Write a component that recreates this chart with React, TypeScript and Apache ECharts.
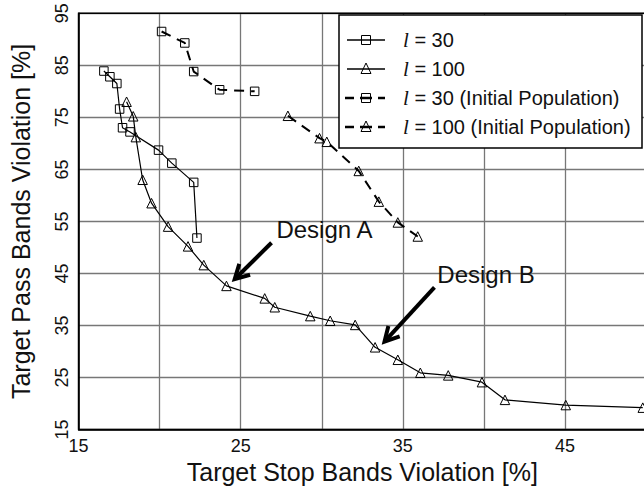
import React, { useEffect, useRef } from "react";
import * as echarts from "echarts";

// x: Target Stop Bands Violation [%], y: Target Pass Bands Violation [%]
const l30X = [16.56, 16.93, 17.36, 17.53, 17.71, 18.17, 19.93, 20.75, 22.1, 22.3];
const l30Y = [83.9, 82.8, 81.5, 76.6, 73.0, 72.2, 68.7, 66.2, 62.5, 51.8];

const l100X = [17.96, 18.37, 18.53, 18.95, 19.5, 20.52, 21.75, 22.72, 24.12, 26.48, 27.1, 29.29, 30.52, 32.06, 33.29, 34.69, 36.08, 37.8, 39.88, 41.3, 45.05, 49.8];
const l100Y = [78.0, 75.2, 71.2, 63.0, 58.5, 54.0, 50.2, 46.6, 42.6, 40.2, 38.5, 36.8, 35.9, 35.1, 30.8, 28.4, 25.9, 25.4, 24.1, 20.7, 19.7, 19.2];

const init30X = [20.12, 21.55, 22.1, 23.7, 25.86];
const init30Y = [91.5, 89.3, 83.8, 80.3, 80.0];

const init100X = [27.91, 29.86, 30.31, 32.28, 33.52, 34.69, 35.92];
const init100Y = [75.3, 71.0, 70.3, 64.7, 58.8, 54.8, 52.1];

const xLabelTicks = [15, 25, 35, 45];

const xTitle = "Target Stop Bands Violation [%]";
const yTitle = "Target Pass Bands Violation [%]";

// annotations (data coordinates)
const designLabels = ["Design A", "Design B"];
const designTextPos = [[27.2, 53.4], [37.13, 44.7]];
const designTail = [[26.9, 50.9], [36.95, 42.3]];
const designTip = [[24.63, 43.9], [33.87, 31.9]];

const legendLabels = ["30", "100", "30 (Initial Population)", "100 (Initial Population)"];

const zip = (xs: number[], ys: number[]) => xs.map((x, i) => [x, ys[i]]);

const FONT = "'Liberation Sans', Arial, sans-serif";

export default function App() {
  const ref = useRef<HTMLDivElement>(null);
  useEffect(() => {
    const chart = echarts.init(ref.current!, null, { renderer: "svg" });
    const hollow = { color: "rgba(0,0,0,0)", borderColor: "#000", borderWidth: 1 };
    const mk = (name: string, data: number[][], symbol: string, size: number, dashed: boolean) => ({
      name,
      type: "line",
      data,
      symbol,
      symbolSize: size,
      showSymbol: true,
      lineStyle: dashed
        ? { color: "#000", width: 2, type: [10, 7] }
        : { color: "#000", width: 1.2 },
      itemStyle: hollow,
      z: 3,
    });
    chart.setOption({
      animation: false,
      textStyle: { fontFamily: FONT },
      grid: { left: 78.6, top: 13.3, bottom: 61.5, right: 6, show: false },
      xAxis: {
        type: "value",
        min: 15,
        max: 50,
        interval: 5,
        name: xTitle,
        nameLocation: "middle",
        nameGap: 23,
        nameTextStyle: { fontSize: 25, color: "#111", fontFamily: FONT },
        axisLine: { show: true, lineStyle: { color: "#000", width: 1.5 } },
        axisTick: { show: false },
        axisLabel: {
          fontSize: 18,
          color: "#111",
          margin: 7,
          fontFamily: FONT,
          formatter: (v: number) => (xLabelTicks.includes(v) ? String(v) : ""),
        },
        splitLine: { show: true, lineStyle: { color: "#777", width: 1.3 } },
      },
      yAxis: {
        type: "value",
        min: 15,
        max: 95,
        interval: 10,
        axisLine: { show: true, lineStyle: { color: "#000", width: 1.5 } },
        axisTick: { show: false },
        axisLabel: { fontSize: 18, color: "#111", rotate: 90, margin: 8, fontFamily: FONT },
        splitLine: { show: true, lineStyle: { color: "#777", width: 1.3 } },
      },
      series: [
        mk("l = 30", zip(l30X, l30Y), "rect", 8.5, false),
        mk("l = 100", zip(l100X, l100Y), "triangle", 9.5, false),
        mk("l = 30 (Initial Population)", zip(init30X, init30Y), "rect", 8.5, true),
        mk("l = 100 (Initial Population)", zip(init100X, init100Y), "triangle", 9.5, true),
      ],
    });

    const px = (p: number[]) => chart.convertToPixel({ gridIndex: 0 }, p) as number[];
    const graphics: any[] = [];
    const tl = px([15, 95]);
    const br = px([50, 15]);
    graphics.push({
      type: "rect",
      shape: { x: tl[0], y: tl[1], width: br[0] - tl[0], height: br[1] - tl[1] },
      style: { fill: "none", stroke: "#000", lineWidth: 1.5 },
      z: 5,
    });
    // y axis title
    graphics.push({
      type: "text",
      x: 21,
      y: (tl[1] + br[1]) / 2,
      rotation: Math.PI / 2,
      style: { text: yTitle, font: `25px ${FONT}`, fill: "#111", align: "center", verticalAlign: "middle" },
      z: 10,
    });
    // annotations
    designLabels.forEach((lab, i) => {
      const t = px(designTextPos[i]);
      const a = px(designTail[i]);
      const b = px(designTip[i]);
      const ang = Math.atan2(a[1] - b[1], a[0] - b[0]);
      const L = 16;
      const h1 = [b[0] + L * Math.cos(ang + 0.5), b[1] + L * Math.sin(ang + 0.5)];
      const h2 = [b[0] + L * Math.cos(ang - 0.5), b[1] + L * Math.sin(ang - 0.5)];
      graphics.push({
        type: "text",
        x: t[0],
        y: t[1],
        style: { text: lab, font: `24px ${FONT}`, fill: "#111", verticalAlign: "middle", align: "left" },
        z: 10,
      });
      graphics.push({
        type: "line",
        shape: { x1: a[0], y1: a[1], x2: b[0] + 2 * Math.cos(ang), y2: b[1] + 2 * Math.sin(ang) },
        style: { stroke: "#000", lineWidth: 4 },
        z: 10,
      });
      graphics.push({
        type: "polyline",
        shape: { points: [h1, b, h2] },
        style: { stroke: "#000", lineWidth: 4, fill: "none", lineJoin: "miter" },
        z: 10,
      });
    });
    // legend
    const lx = 339, ly = 15, lw = 303, lh = 133;
    graphics.push({
      type: "rect",
      shape: { x: lx, y: ly, width: lw, height: lh },
      style: { fill: "#fff", stroke: "#000", lineWidth: 1.5 },
      z: 20,
    });
    const rowY = [40, 69, 98, 127];
    legendLabels.forEach((lab, i) => {
      const y = rowY[i];
      const dashed = i >= 2;
      const cx = 366;
      if (dashed) {
        graphics.push({ type: "line", shape: { x1: 345, y1: y, x2: 354, y2: y }, style: { stroke: "#000", lineWidth: 2.5 }, z: 21 });
        graphics.push({ type: "line", shape: { x1: 360, y1: y, x2: 372, y2: y }, style: { stroke: "#000", lineWidth: 2.5 }, z: 21 });
        graphics.push({ type: "line", shape: { x1: 378, y1: y, x2: 385, y2: y }, style: { stroke: "#000", lineWidth: 2.5 }, z: 21 });
      } else {
        graphics.push({ type: "line", shape: { x1: 347, y1: y, x2: 385, y2: y }, style: { stroke: "#000", lineWidth: 1.5 }, z: 21 });
      }
      if (i % 2 === 0) {
        graphics.push({ type: "rect", shape: { x: cx - 4.5, y: y - 4.5, width: 9, height: 9 }, style: { fill: "none", stroke: "#000", lineWidth: 1 }, z: 22 });
      } else {
        graphics.push({
          type: "polygon",
          shape: { points: [[cx, y - 6], [cx + 5, y + 4.5], [cx - 5, y + 4.5]] },
          style: { fill: "none", stroke: "#000", lineWidth: 1 },
          z: 22,
        });
      }
      graphics.push({
        type: "text",
        x: 403,
        y,
        style: {
          text: `{i|l} = ${lab}`,
          font: `20px ${FONT}`,
          fill: "#111",
          verticalAlign: "middle",
          rich: {
            i: { fontStyle: "italic", fontFamily: "'Liberation Serif', serif", fontSize: 21, fill: "#111" },
          },
        },
        z: 22,
      });
    });
    chart.setOption({ graphic: graphics });
    return () => chart.dispose();
  }, []);
  return (
    <div style={{ position: "absolute", left: 0, top: 0, width: 644, height: 491, overflow: "hidden", background: "#fff" }}>
      <div ref={ref} style={{ width: 652, height: 491 }} />
    </div>
  );
}
